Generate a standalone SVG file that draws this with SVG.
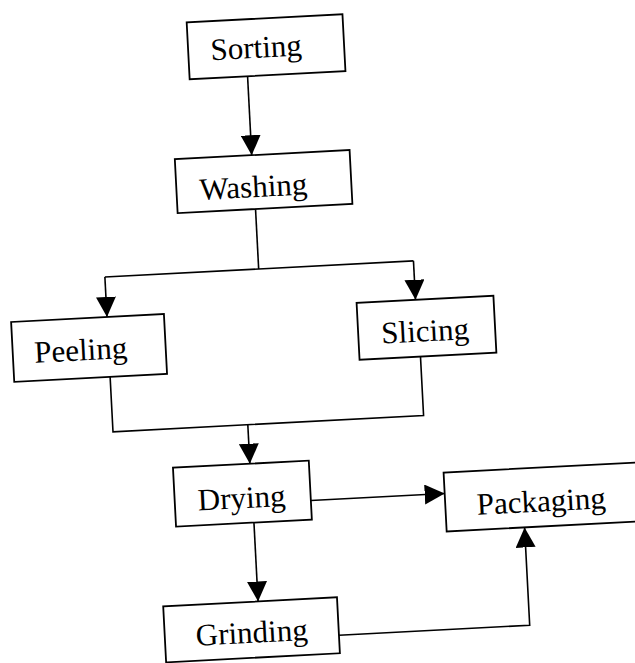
<svg xmlns="http://www.w3.org/2000/svg" width="635" height="663" viewBox="0 0 635 663">
  <style>
    .box { fill: #ffffff; stroke: #000000; stroke-width: 1.8; }
    .lbl { font-family: "Liberation Serif", "Times New Roman", serif; font-size: 31px; fill: #000000; text-anchor: middle; }
    .wire { fill: none; stroke: #000000; stroke-width: 1.6; }
  </style>
  <defs>
    <marker id="arrow" markerUnits="userSpaceOnUse" markerWidth="20" markerHeight="20" refX="20" refY="10" orient="auto">
      <path d="M0,0 L20,10 L0,20 z" fill="#000000"/>
    </marker>
  </defs>
  <rect width="635" height="663" fill="#ffffff"/>
  <g transform="rotate(-3 317 331)">
    <g id="connectors">
      <path class="wire" d="M261,73 L261,152" marker-end="url(#arrow)"/>
      <path class="wire" d="M262,206 L262,266"/>
      <path class="wire" d="M108,266 L417,266"/>
      <path class="wire" d="M108,266 L108,306" marker-end="url(#arrow)"/>
      <path class="wire" d="M417,266 L417,305" marker-end="url(#arrow)"/>
      <path class="wire" d="M108,366 L108,421 L419,421 L419,362"/>
      <path class="wire" d="M243,421 L243,460" marker-end="url(#arrow)"/>
      <path class="wire" d="M302,500 L436,500" marker-end="url(#arrow)"/>
      <path class="wire" d="M244,519 L244,598" marker-end="url(#arrow)"/>
      <path class="wire" d="M323,636 L514,636 L514,538" marker-end="url(#arrow)"/>
    </g>
    <g id="sorting">
      <rect class="box" x="203" y="16" width="156" height="57"/>
      <text class="lbl" x="271" y="55">Sorting</text>
    </g>
    <g id="washing">
      <rect class="box" x="184" y="152" width="175" height="54"/>
      <text class="lbl" x="261" y="194">Washing</text>
    </g>
    <g id="peeling">
      <rect class="box" x="12" y="306" width="153" height="60"/>
      <text class="lbl" x="80" y="348">Peeling</text>
    </g>
    <g id="slicing">
      <rect class="box" x="358" y="305" width="137" height="57"/>
      <text class="lbl" x="425" y="347">Slicing</text>
    </g>
    <g id="drying">
      <rect class="box" x="166" y="460" width="136" height="59"/>
      <text class="lbl" x="233" y="504">Drying</text>
    </g>
    <g id="packaging">
      <rect class="box" x="436" y="479" width="196" height="59"/>
      <text class="lbl" x="532" y="523">Packaging</text>
    </g>
    <g id="grinding">
      <rect class="box" x="149" y="598" width="174" height="56"/>
      <text class="lbl" x="236" y="639">Grinding</text>
    </g>
  </g>
</svg>
